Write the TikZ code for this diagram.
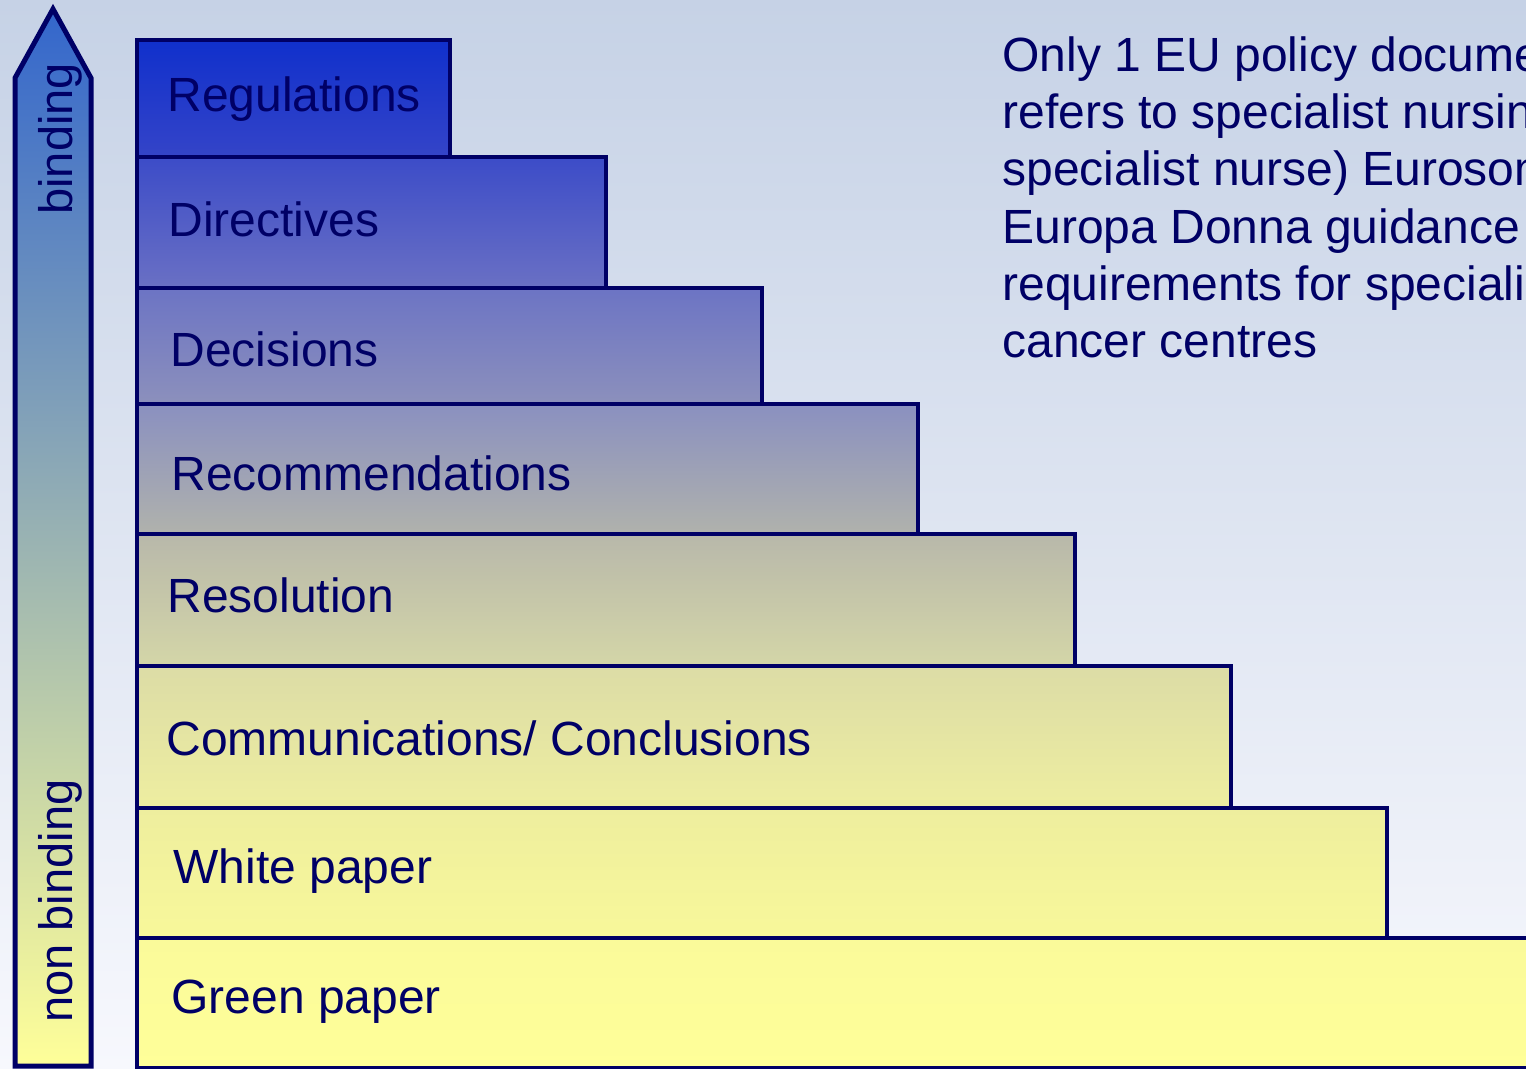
\documentclass[tikz,border=0pt]{standalone}
\usepackage{fontspec}
\setmainfont{Liberation Sans}
\definecolor{navy}{HTML}{000066}
\definecolor{bgtop}{HTML}{C6D2E6}
\definecolor{bgbot}{HTML}{F7F8FD}
\definecolor{arrowtop}{HTML}{3366CC}
\definecolor{arrowmid}{HTML}{B0B8B2}
\definecolor{paper}{HTML}{FFFF99}
\tikzset{stepbox/.style={draw=navy, line width=1.7pt},
  steplabel/.style={anchor=base west, inner sep=0pt, text=navy, font=\fontsize{24}{28}\selectfont},
  sidelabel/.style={anchor=base west, inner sep=0pt, rotate=90, text=navy, font=\fontsize{23.5}{28}\selectfont}}

\begin{document}
\begin{tikzpicture}[x=0.5pt,y=-0.5pt]
\useasboundingbox (0,0) rectangle (1526,1069);
\clip (0,0) rectangle (1526,1069);
\shade[top color=bgtop, bottom color=bgbot] (0,0) rectangle (1526,1069);

% binding arrow
\shade[draw=navy, line width=2.5pt, line join=miter, top color=arrowtop, middle color=arrowmid, bottom color=paper]
  (15,78) -- (53,9) -- (91,78) -- (91,1066) -- (15,1066) -- cycle;
\node[sidelabel] (bind) at (72,215) {binding};
\node[sidelabel] (nonbind) at (72,1023) {non binding};

% staircase
\shade[stepbox, top color={rgb,255:red,250;green,250;blue,154}, bottom color=paper] (137,938) rectangle (1545,1068);
\shade[stepbox, top color={rgb,255:red,238;green,238;blue,158}, bottom color={rgb,255:red,248;green,248;blue,154}] (137,808) rectangle (1387,938);
\shade[stepbox, top color={rgb,255:red,220;green,220;blue,166}, bottom color={rgb,255:red,238;green,238;blue,160}] (137,666) rectangle (1231,808);
\shade[stepbox, top color={rgb,255:red,184;green,184;blue,170}, bottom color={rgb,255:red,212;green,214;blue,168}] (137,534) rectangle (1075,666);
\shade[stepbox, top color={rgb,255:red,138;green,144;blue,192}, bottom color={rgb,255:red,176;green,178;blue,172}] (137,404) rectangle (918,534);
\shade[stepbox, top color={rgb,255:red,108;green,116;blue,196}, bottom color={rgb,255:red,140;green,144;blue,188}] (137,288) rectangle (762,404);
\shade[stepbox, top color={rgb,255:red,60;green,76;blue,200}, bottom color={rgb,255:red,106;green,112;blue,196}] (137,157) rectangle (606,288);
\shade[stepbox, top color={rgb,255:red,16;green,48;blue,204}, bottom color={rgb,255:red,52;green,68;blue,200}] (137,40) rectangle (450,157);

\node[steplabel] (reg) at (167,112) {Regulations};
\node[steplabel] (dir) at (168,237) {Directives};
\node[steplabel] (dec) at (170,367) {Decisions};
\node[steplabel] (rec) at (171,490) {Recommendations};
\node[steplabel] (res) at (167,612) {Resolution};
\node[steplabel] (com) at (166,755) {Communications/ Conclusions};
\node[steplabel] (wp) at (173,883) {White paper};
\node[steplabel] (gp) at (171,1013) {Green paper};

% note on the right
\node[anchor=north west, inner sep=0pt, align=left, text=navy, font=\fontsize{24}{28.65}\selectfont] (note) at (1002,36)
  {Only 1 EU policy document\\refers to specialist nursing\\specialist nurse) Eurosoma\\Europa Donna guidance\\requirements for specialist\\cancer centres};
\end{tikzpicture}
\end{document}
